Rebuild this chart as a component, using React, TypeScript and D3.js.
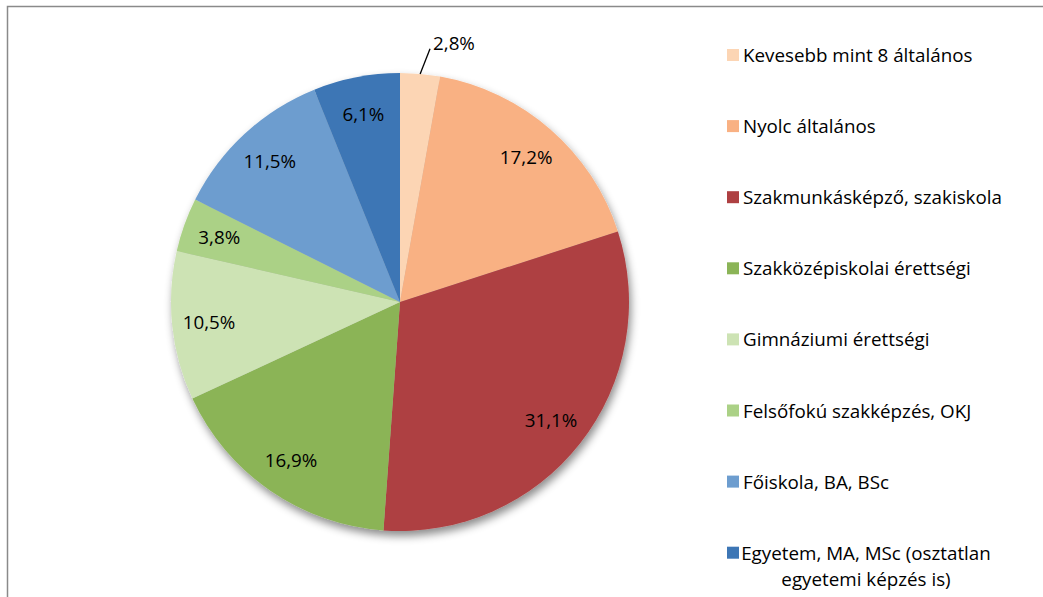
import React from "react";
import * as d3 from "d3";

const categories = [
  "Kevesebb mint 8 általános",
  "Nyolc általános",
  "Szakmunkásképző, szakiskola",
  "Szakközépiskolai érettségi",
  "Gimnáziumi érettségi",
  "Felsőfokú szakképzés, OKJ",
  "Főiskola, BA, BSc",
  "Egyetem, MA, MSc (osztatlan|egyetemi képzés is)",
];
const values = [2.8, 17.2, 31.1, 16.9, 10.5, 3.8, 11.5, 6.1];
const colors = [
  "#FCD5B4",
  "#F9B183",
  "#AE4042",
  "#8BB457",
  "#CDE3B4",
  "#ABD186",
  "#6D9DCF",
  "#3D76B5",
];

const W = 1043;
const H = 597;
const cx = 400;
const cy = 302;
const R = 229;
const labelR = 192;
const FS = 18.8;
const FONT = "'Open Sans', 'Noto Sans', sans-serif";

const fmt = (v: number) => v.toFixed(1).replace(".", ",") + "%";

export default function App() {
  const pie = d3.pie<number>().sort(null).value((d) => d);
  const arcs = pie(values);
  const arcGen = d3.arc<d3.PieArcDatum<number>>().innerRadius(0).outerRadius(R);
  const labelArc = d3
    .arc<d3.PieArcDatum<number>>()
    .innerRadius(labelR)
    .outerRadius(labelR);

  const legendX = 727;
  const legendTop = 55;
  const legendStep = 71.1;

  return (
    <svg
      width={W}
      height={H}
      style={{ position: "absolute", left: 0, top: 0, display: "block" }}
      fontFamily={FONT}
    >
      <defs>
        <filter id="shadow" x="-20%" y="-20%" width="140%" height="140%">
          <feDropShadow dx="2" dy="5" stdDeviation="4" floodColor="#000" floodOpacity="0.45" />
        </filter>
      </defs>
      <rect x={0} y={0} width={W} height={H} fill="#fff" />
      <rect
        x={7.5}
        y={6.5}
        width={W + 20}
        height={H + 20}
        fill="none"
        stroke="#8a8a8a"
        strokeWidth={1.5}
      />
      <g transform={`translate(${cx},${cy})`}>
        <g filter="url(#shadow)">
          {arcs.map((a, i) => (
            <path key={i} d={arcGen(a) || ""} fill={colors[i]} />
          ))}
        </g>
        {arcs.map((a, i) => {
          if (values[i] < 3) {
            const mid = (a.startAngle + a.endAngle) / 2;
            const x1 = R * Math.sin(mid);
            const y1 = -R * Math.cos(mid);
            const mid2 = mid + 0.03;
            const x2 = (R + 26) * Math.sin(mid2);
            const y2 = -(R + 26) * Math.cos(mid2);
            return (
              <g key={i}>
                <line x1={x1} y1={y1} x2={x2} y2={y2} stroke="#000" strokeWidth={1.3} />
                <text x={x2 + 3} y={y2 + 1} fontSize={FS} fill="#000">
                  {fmt(values[i])}
                </text>
              </g>
            );
          }
          const [lx, ly] = labelArc.centroid(a);
          return (
            <text
              key={i}
              x={lx}
              y={ly}
              textAnchor="middle"
              dominantBaseline="central"
              fontSize={FS}
              fill="#000"
            >
              {fmt(values[i])}
            </text>
          );
        })}
      </g>
      {categories.map((c, i) => {
        const yc = legendTop + i * legendStep;
        const lines = c.split("|");
        return (
          <g key={i}>
            <rect x={legendX} y={yc - 6} width={12} height={12} fill={colors[i]} />
            {lines.length === 1 ? (
              <text x={legendX + 16} y={yc} dominantBaseline="central" fontSize={FS} fill="#000">
                {c}
              </text>
            ) : (
              <text fontSize={FS} fill="#000" textAnchor="middle">
                {lines.map((ln, j) => (
                  <tspan key={j} x={866} y={yc + j * 26} dominantBaseline="central">
                    {ln}
                  </tspan>
                ))}
              </text>
            )}
          </g>
        );
      })}
    </svg>
  );
}
